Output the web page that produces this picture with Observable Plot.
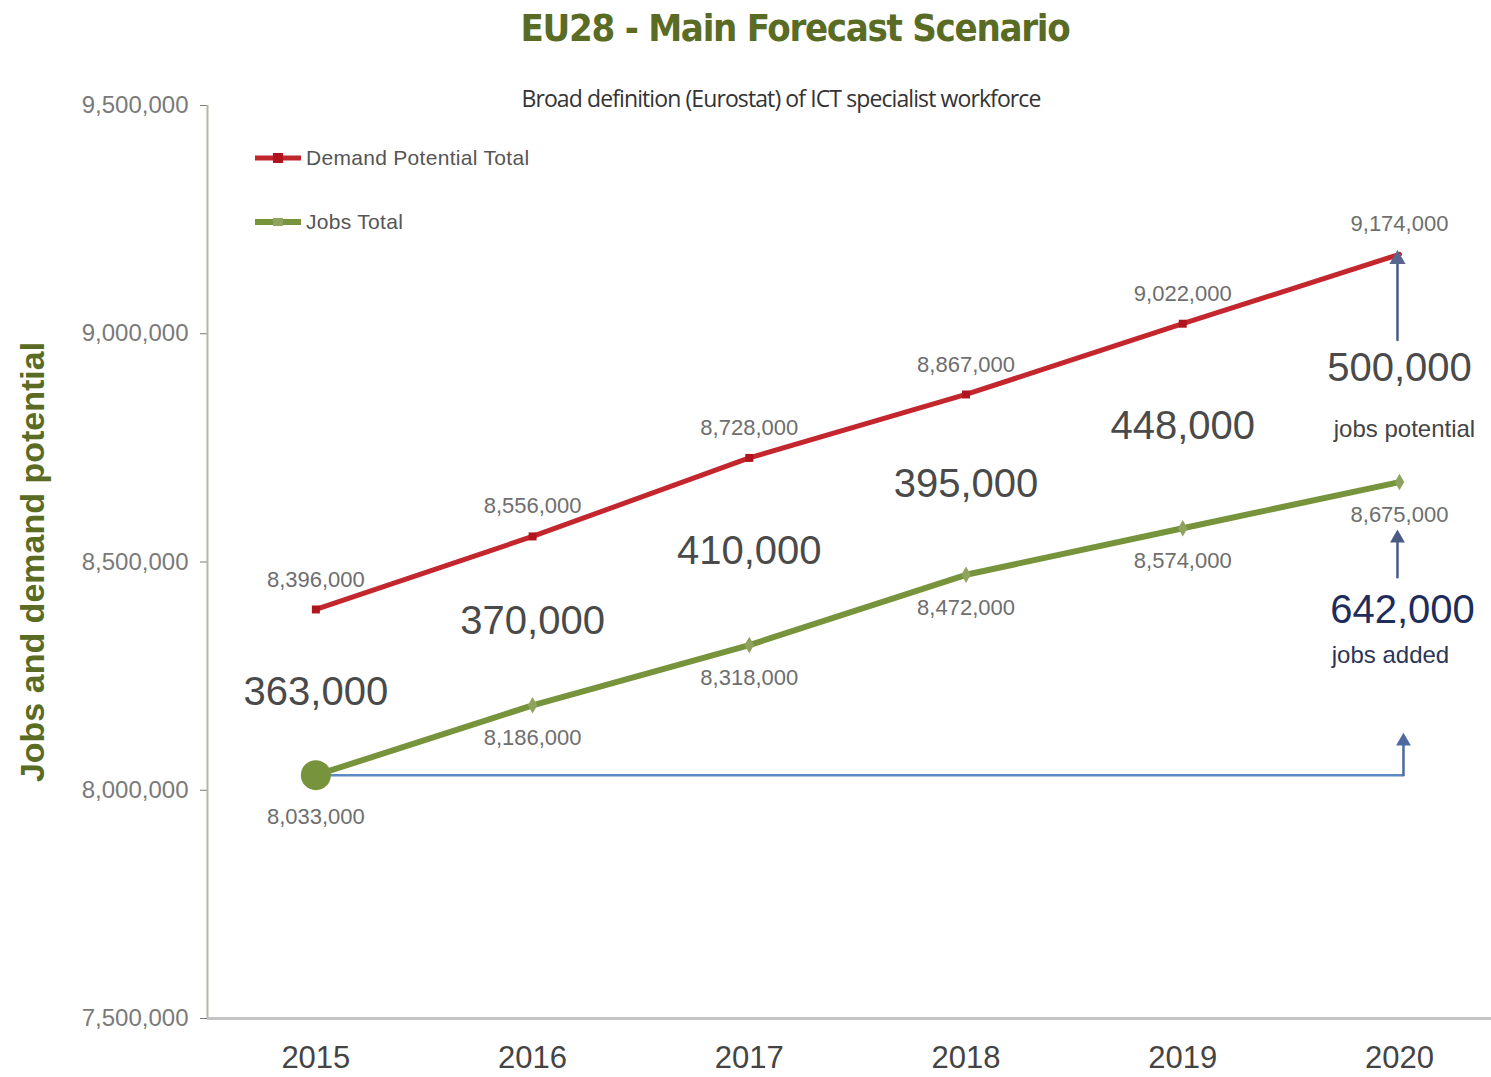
<!DOCTYPE html>
<html><head><meta charset="utf-8">
<script src="https://cdn.jsdelivr.net/npm/d3@7"></script>
<script src="https://cdn.jsdelivr.net/npm/@observablehq/plot@0.6"></script>
<style>
body{margin:0;background:#fff;width:1491px;height:1077px;overflow:hidden;position:relative;font-family:"Liberation Sans",Arial,sans-serif}
#title{position:absolute;left:295px;top:4px;width:1000px;text-align:center;line-height:48px;font-size:38px;font-weight:bold;color:#5a6b24;font-family:"Liberation Sans Narrow","DejaVu Sans Condensed",sans-serif;letter-spacing:-1.3px}
#chart{position:absolute;left:0;top:62px}
#subtitle{position:absolute;left:431px;top:85px;width:700px;text-align:center;font-size:23px;line-height:26px;color:#333;font-family:"Open Sans",sans-serif;letter-spacing:-0.9px}
.leg{position:absolute;left:253px;height:24px;display:flex;align-items:center;font-size:21px;color:#555;letter-spacing:0.3px}
.leg svg{margin-right:3px}
</style></head><body>
<div id="title">EU28 - Main Forecast Scenario</div>
<div id="chart"></div>
<div id="subtitle">Broad definition (Eurostat) of ICT specialist workforce</div>
<div class="leg" style="top:146px"><svg width="50" height="12"><line x1="2" y1="6" x2="48" y2="6" stroke="#c0272d" stroke-width="5"/><rect x="20" y="1" width="10" height="10" fill="#b0141c"/></svg>Demand Potential Total</div>
<div class="leg" style="top:210px"><svg width="50" height="12"><line x1="2" y1="6" x2="48" y2="6" stroke="#77933c" stroke-width="6"/><rect x="20" y="2" width="10" height="8" fill="#8fa35f"/></svg>Jobs Total</div>
<script>
const years = [2015, 2016, 2017, 2018, 2019, 2020];
const demand = [8396000, 8556000, 8728000, 8867000, 9022000, 9174000];
const jobs = [8033000, 8186000, 8318000, 8472000, 8574000, 8675000];
const gaps = [363000, 370000, 410000, 395000, 448000, 500000];
const jobsAdded = 642000;
const yTicks = [7500000, 8000000, 8500000, 9000000, 9500000];

const fmt = d3.format(",");
const dem = years.map((y, i) => ({year: y, value: demand[i]}));
const job = years.map((y, i) => ({year: y, value: jobs[i]}));
const gap = years.map((y, i) => ({year: y, mid: (demand[i] + jobs[i]) / 2, gap: gaps[i]}));
const last = years.length - 1;
const ann = [{x: years[last], base: jobs[0], top: jobs[last], dmd: demand[last], mid: (jobs[0] + jobs[last]) / 2}];

const chart = Plot.plot({
  width: 1491, height: 1015,
  marginLeft: 207, marginTop: 43, marginBottom: 59, marginRight: 0,
  x: {domain: [2014.5, 2020.42], range: [207, 1490], axis: null},
  y: {domain: [7500000, 9500000], axis: null},
  style: {background: "transparent", overflow: "visible", fontFamily: "Liberation Sans, Arial, sans-serif"},
  marks: [
    Plot.axisY(yTicks, {anchor: "left", tickFormat: fmt, tickSize: 7, tickPadding: 12, fontSize: 24, color: "#7a7a7a", label: null, letterSpacing: 2.2}),
    Plot.ruleX([2014.5], {stroke: "#b9b59c", strokeWidth: 2}),
    Plot.ruleY([7500000], {stroke: "#c4c4c4", strokeWidth: 3}),
    Plot.text(years, {x: d => d, text: d => String(d), frameAnchor: "bottom", dy: 40, lineAnchor: "middle", fontSize: 31, fill: "#444"}),
    Plot.text(["Jobs and demand potential"], {frameAnchor: "left", textAnchor: "middle", dx: -174, rotate: -90, fontSize: 34, fontWeight: "bold", fill: "#5a6b24", letterSpacing: 0.3}),
    // baseline & arrows
    Plot.ruleY(ann, {x1: years[0], x2: "x", y: "base", dx: 4, stroke: "#5b8ac4", strokeWidth: 2.5}),
    Plot.arrow(ann, {x1: "x", x2: "x", y1: "base", y2: "top", dx: 4, insetEnd: 262, stroke: "#4d6aa0", strokeWidth: 2.5, headLength: 0}),
    Plot.dot(ann, {x: "x", y: "base", dx: 4, dy: -34, symbol: "triangle", r: 5.5, fill: "#4d6aa0"}),
    Plot.arrow(ann, {x1: "x", x2: "x", y1: "base", y2: "top", dx: -2, insetStart: 198, insetEnd: 56, stroke: "#4a5a85", strokeWidth: 2.5, headLength: 0}),
    Plot.dot(ann, {x: "x", y: "top", dx: -2, dy: 56, symbol: "triangle", r: 5.5, fill: "#4a5a85"}),
    Plot.arrow(ann, {x1: "x", x2: "x", y1: "top", y2: "dmd", dx: -2, insetStart: 142, insetEnd: 8, stroke: "#4a5a85", strokeWidth: 2.5, headLength: 0}),
    // lines
    Plot.line(dem, {x: "year", y: "value", stroke: "#c4262e", strokeWidth: 5}),
    Plot.dot(dem.slice(0, last), {x: "year", y: "value", symbol: "square", r: 4.5, fill: "#b0141c"}),
    Plot.dot(ann, {x: "x", y: "dmd", dx: -2, dy: 5, symbol: "triangle", r: 6, fill: "#5a6590"}),
    Plot.line(job, {x: "year", y: "value", stroke: "#77933c", strokeWidth: 6}),
    Plot.dot(job.slice(1), {x: "year", y: "value", symbol: "diamond", r: 5, fill: "#8fa35f"}),
    Plot.dot(job.slice(0, 1), {x: "year", y: "value", r: 15, fill: "#77933c"}),
    // value labels
    Plot.text(dem, {x: "year", y: "value", text: d => fmt(d.value), dy: -30, fontSize: 22, fill: "#6e6e6e", letterSpacing: 0.6}),
    Plot.text(job.slice(0, 1), {x: "year", y: "value", text: d => fmt(d.value), dy: 42, fontSize: 22, fill: "#6e6e6e", letterSpacing: 0.6}),
    Plot.text(job.slice(1), {x: "year", y: "value", text: d => fmt(d.value), dy: 33, fontSize: 22, fill: "#6e6e6e", letterSpacing: 0.6}),
    // gap labels
    Plot.text(gap, {x: "year", y: "mid", text: d => fmt(d.gap), fontSize: 40, fill: "#4a4a4a"}),
    Plot.text(gap.slice(last), {x: "year", y: "mid", text: () => "jobs potential", dy: 61, dx: 5, fontSize: 24, fill: "#444", letterSpacing: -0.5}),
    Plot.text(ann, {x: "x", y: "mid", text: () => fmt(jobsAdded), dy: -18, dx: 3, fontSize: 40, fill: "#1f2d5c"}),
    Plot.text(ann, {x: "x", y: "mid", text: () => "jobs added", dy: 27, dx: -9, fontSize: 24, fill: "#2d3557", letterSpacing: -0.5})
  ]
});
document.getElementById("chart").appendChild(chart);
</script>
</body></html>
